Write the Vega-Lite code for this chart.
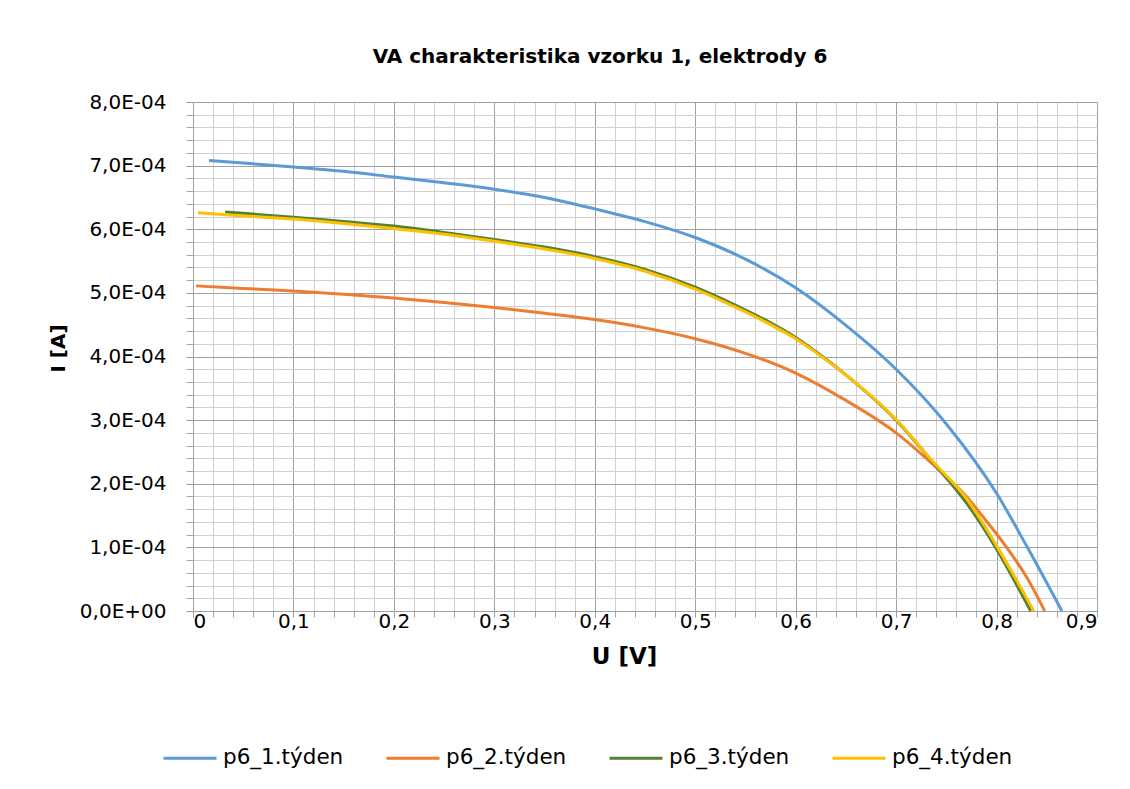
{
  "$schema": "https://vega.github.io/schema/vega-lite/v6.json",
  "autosize": "none",
  "width": 904,
  "height": 509,
  "padding": {"left": 193, "top": 102, "right": 33, "bottom": 178},
  "background": "white",
  "config": {
    "view": {"stroke": null},
    "font": "DejaVu Sans"
  },
  "title": {
    "text": "VA charakteristika vzorku 1, elektrody 6",
    "font": "DejaVu Sans",
    "fontSize": 20,
    "fontWeight": "bold",
    "color": "#000000",
    "anchor": "middle",
    "frame": "group",
    "baseline": "bottom",
    "offset": 5,
    "dx": -45
  },
  "data": {
    "values": [
      {"U": 0.016, "I": 7.08e-4, "s": "p6_1.týden"},
      {"U": 0.05, "I": 7.04e-4, "s": "p6_1.týden"},
      {"U": 0.1, "I": 6.98e-4, "s": "p6_1.týden"},
      {"U": 0.15, "I": 6.91e-4, "s": "p6_1.týden"},
      {"U": 0.2, "I": 6.82e-4, "s": "p6_1.týden"},
      {"U": 0.25, "I": 6.73e-4, "s": "p6_1.týden"},
      {"U": 0.3, "I": 6.63e-4, "s": "p6_1.týden"},
      {"U": 0.35, "I": 6.50e-4, "s": "p6_1.týden"},
      {"U": 0.4, "I": 6.32e-4, "s": "p6_1.týden"},
      {"U": 0.45, "I": 6.12e-4, "s": "p6_1.týden"},
      {"U": 0.5, "I": 5.87e-4, "s": "p6_1.týden"},
      {"U": 0.55, "I": 5.53e-4, "s": "p6_1.týden"},
      {"U": 0.6, "I": 5.08e-4, "s": "p6_1.týden"},
      {"U": 0.65, "I": 4.49e-4, "s": "p6_1.týden"},
      {"U": 0.7, "I": 3.80e-4, "s": "p6_1.týden"},
      {"U": 0.75, "I": 2.94e-4, "s": "p6_1.týden"},
      {"U": 0.8, "I": 1.85e-4, "s": "p6_1.týden"},
      {"U": 0.83, "I": 1.02e-4, "s": "p6_1.týden"},
      {"U": 0.865, "I": 0, "s": "p6_1.týden"},

      {"U": 0.003, "I": 5.11e-4, "s": "p6_2.týden"},
      {"U": 0.05, "I": 5.07e-4, "s": "p6_2.týden"},
      {"U": 0.1, "I": 5.03e-4, "s": "p6_2.týden"},
      {"U": 0.15, "I": 4.98e-4, "s": "p6_2.týden"},
      {"U": 0.2, "I": 4.92e-4, "s": "p6_2.týden"},
      {"U": 0.25, "I": 4.85e-4, "s": "p6_2.týden"},
      {"U": 0.3, "I": 4.77e-4, "s": "p6_2.týden"},
      {"U": 0.35, "I": 4.68e-4, "s": "p6_2.týden"},
      {"U": 0.4, "I": 4.58e-4, "s": "p6_2.týden"},
      {"U": 0.45, "I": 4.45e-4, "s": "p6_2.týden"},
      {"U": 0.5, "I": 4.28e-4, "s": "p6_2.týden"},
      {"U": 0.55, "I": 4.05e-4, "s": "p6_2.týden"},
      {"U": 0.6, "I": 3.74e-4, "s": "p6_2.týden"},
      {"U": 0.65, "I": 3.31e-4, "s": "p6_2.týden"},
      {"U": 0.7, "I": 2.80e-4, "s": "p6_2.týden"},
      {"U": 0.737, "I": 2.30e-4, "s": "p6_2.týden"},
      {"U": 0.755, "I": 2.04e-4, "s": "p6_2.týden"},
      {"U": 0.77, "I": 1.80e-4, "s": "p6_2.týden"},
      {"U": 0.785, "I": 1.51e-4, "s": "p6_2.týden"},
      {"U": 0.81, "I": 1.00e-4, "s": "p6_2.týden"},
      {"U": 0.83, "I": 0.53e-4, "s": "p6_2.týden"},
      {"U": 0.848, "I": 0, "s": "p6_2.týden"},

      {"U": 0.032, "I": 6.27e-4, "s": "p6_3.týden"},
      {"U": 0.05, "I": 6.25e-4, "s": "p6_3.týden"},
      {"U": 0.1, "I": 6.19e-4, "s": "p6_3.týden"},
      {"U": 0.15, "I": 6.12e-4, "s": "p6_3.týden"},
      {"U": 0.2, "I": 6.05e-4, "s": "p6_3.týden"},
      {"U": 0.25, "I": 5.95e-4, "s": "p6_3.týden"},
      {"U": 0.3, "I": 5.84e-4, "s": "p6_3.týden"},
      {"U": 0.35, "I": 5.72e-4, "s": "p6_3.týden"},
      {"U": 0.4, "I": 5.57e-4, "s": "p6_3.týden"},
      {"U": 0.45, "I": 5.37e-4, "s": "p6_3.týden"},
      {"U": 0.5, "I": 5.09e-4, "s": "p6_3.týden"},
      {"U": 0.55, "I": 4.73e-4, "s": "p6_3.týden"},
      {"U": 0.575, "I": 4.53e-4, "s": "p6_3.týden"},
      {"U": 0.6, "I": 4.30e-4, "s": "p6_3.týden"},
      {"U": 0.625, "I": 4.02e-4, "s": "p6_3.týden"},
      {"U": 0.65, "I": 3.71e-4, "s": "p6_3.týden"},
      {"U": 0.7, "I": 3.00e-4, "s": "p6_3.týden"},
      {"U": 0.737, "I": 2.33e-4, "s": "p6_3.týden"},
      {"U": 0.77, "I": 1.70e-4, "s": "p6_3.týden"},
      {"U": 0.799, "I": 1.00e-4, "s": "p6_3.týden"},
      {"U": 0.834, "I": 0, "s": "p6_3.týden"},

      {"U": 0.005, "I": 6.26e-4, "s": "p6_4.týden"},
      {"U": 0.05, "I": 6.21e-4, "s": "p6_4.týden"},
      {"U": 0.1, "I": 6.16e-4, "s": "p6_4.týden"},
      {"U": 0.15, "I": 6.09e-4, "s": "p6_4.týden"},
      {"U": 0.2, "I": 6.01e-4, "s": "p6_4.týden"},
      {"U": 0.25, "I": 5.92e-4, "s": "p6_4.týden"},
      {"U": 0.3, "I": 5.81e-4, "s": "p6_4.týden"},
      {"U": 0.35, "I": 5.69e-4, "s": "p6_4.týden"},
      {"U": 0.4, "I": 5.54e-4, "s": "p6_4.týden"},
      {"U": 0.45, "I": 5.34e-4, "s": "p6_4.týden"},
      {"U": 0.5, "I": 5.06e-4, "s": "p6_4.týden"},
      {"U": 0.55, "I": 4.70e-4, "s": "p6_4.týden"},
      {"U": 0.575, "I": 4.50e-4, "s": "p6_4.týden"},
      {"U": 0.6, "I": 4.28e-4, "s": "p6_4.týden"},
      {"U": 0.625, "I": 4.01e-4, "s": "p6_4.týden"},
      {"U": 0.65, "I": 3.71e-4, "s": "p6_4.týden"},
      {"U": 0.7, "I": 3.01e-4, "s": "p6_4.týden"},
      {"U": 0.737, "I": 2.34e-4, "s": "p6_4.týden"},
      {"U": 0.77, "I": 1.77e-4, "s": "p6_4.týden"},
      {"U": 0.801, "I": 1.00e-4, "s": "p6_4.týden"},
      {"U": 0.837, "I": 0, "s": "p6_4.týden"}
    ]
  },
  "resolve": {"axis": {"x": "independent", "y": "independent"}},
  "layer": [
    {
      "mark": {"type": "line", "opacity": 0},
      "encoding": {
        "x": {
          "field": "U", "type": "quantitative",
          "scale": {"domain": [0, 0.9], "nice": false, "zero": false},
          "axis": {
            "orient": "bottom",
            "values": [0,0.02,0.04,0.06,0.08,0.1,0.12,0.14,0.16,0.18,0.2,0.22,0.24,0.26,0.28,0.3,0.32,0.34,0.36,0.38,0.4,0.42,0.44,0.46,0.48,0.5,0.52,0.54,0.56,0.58,0.6,0.62,0.64,0.66,0.68,0.7,0.72,0.74,0.76,0.78,0.8,0.82,0.84,0.86,0.88,0.9],
            "grid": true, "gridColor": "#d0d0d0", "gridWidth": 1,
            "ticks": true, "tickSize": 6, "tickColor": "#a6a6a6",
            "labels": false, "domain": false, "title": null
          }
        },
        "y": {
          "field": "I", "type": "quantitative",
          "scale": {"domain": [0, 0.0008], "nice": false},
          "axis": {
            "orient": "left",
            "values": [0,2e-5,4e-5,6e-5,8e-5,1e-4,1.2e-4,1.4e-4,1.6e-4,1.8e-4,2e-4,2.2e-4,2.4e-4,2.6e-4,2.8e-4,3e-4,3.2e-4,3.4e-4,3.6e-4,3.8e-4,4e-4,4.2e-4,4.4e-4,4.6e-4,4.8e-4,5e-4,5.2e-4,5.4e-4,5.6e-4,5.8e-4,6e-4,6.2e-4,6.4e-4,6.6e-4,6.8e-4,7e-4,7.2e-4,7.4e-4,7.6e-4,7.8e-4,8e-4],
            "grid": true, "gridColor": "#d0d0d0", "gridWidth": 1,
            "ticks": true, "tickSize": 7, "tickColor": "#a6a6a6",
            "labels": false, "domain": false, "title": null
          }
        }
      }
    },
    {
      "mark": {"type": "line", "strokeWidth": 3, "interpolate": "monotone"},
      "encoding": {
        "x": {
          "field": "U", "type": "quantitative",
          "scale": {"domain": [0, 0.9], "nice": false, "zero": false},
          "axis": {
            "orient": "bottom",
            "values": [0,0.1,0.2,0.3,0.4,0.5,0.6,0.7,0.8,0.9],
            "grid": true, "gridColor": "#a0a0a0", "gridWidth": 1,
            "ticks": true, "tickSize": 6, "tickColor": "#a0a0a0",
            "domain": true, "domainColor": "#a0a0a0",
            "labelFont": "DejaVu Sans", "labelFontSize": 20, "labelColor": "#000000",
            "labelPadding": -6,
            "labelExpr": "replace(toString(round(datum.value*10)/10), '.', ',')",
            "title": "U [V]",
            "titleFont": "DejaVu Sans", "titleFontSize": 23, "titleFontWeight": "bold", "titleColor": "#000000",
            "titleX": 431, "titleY": 45, "titleBaseline": "middle", "titleAlign": "center"
          }
        },
        "y": {
          "field": "I", "type": "quantitative",
          "scale": {"domain": [0, 0.0008], "nice": false},
          "axis": {
            "orient": "left",
            "values": [0,1e-4,2e-4,3e-4,4e-4,5e-4,6e-4,7e-4,8e-4],
            "grid": true, "gridColor": "#a0a0a0", "gridWidth": 1,
            "ticks": true, "tickSize": 7, "tickColor": "#a0a0a0",
            "domain": true, "domainColor": "#a0a0a0",
            "labelFont": "DejaVu Sans", "labelFontSize": 20, "labelColor": "#000000",
            "labelPadding": 20,
            "labelExpr": "datum.value == 0 ? '0,0E+00' : replace(format(datum.value*10000, '.1f'), '.', ',') + 'E-04'",
            "title": "I [A]",
            "titleFont": "DejaVu Sans", "titleFontSize": 20, "titleFontWeight": "bold", "titleColor": "#000000",
            "titleX": -135, "titleY": 246, "titleBaseline": "middle", "titleAlign": "center", "titleAngle": -90
          }
        },
        "color": {
          "field": "s", "type": "nominal",
          "scale": {
            "domain": ["p6_1.týden", "p6_2.týden", "p6_3.týden", "p6_4.týden"],
            "range": ["#5B9BD5", "#ED7D31", "#548235", "#FFC000"]
          },
          "legend": {
            "title": null,
            "orient": "none",
            "direction": "horizontal",
            "legendX": -31,
            "legendY": 628,
            "symbolType": "stroke",
            "symbolSize": 2809,
            "symbolStrokeWidth": 3,
            "labelFont": "DejaVu Sans",
            "labelFontSize": 21.5,
            "labelColor": "#000000",
            "labelOffset": 5,
            "columnPadding": 36,
            "padding": 0,
            "labelLimit": 300
          }
        }
      }
    }
  ]
}
